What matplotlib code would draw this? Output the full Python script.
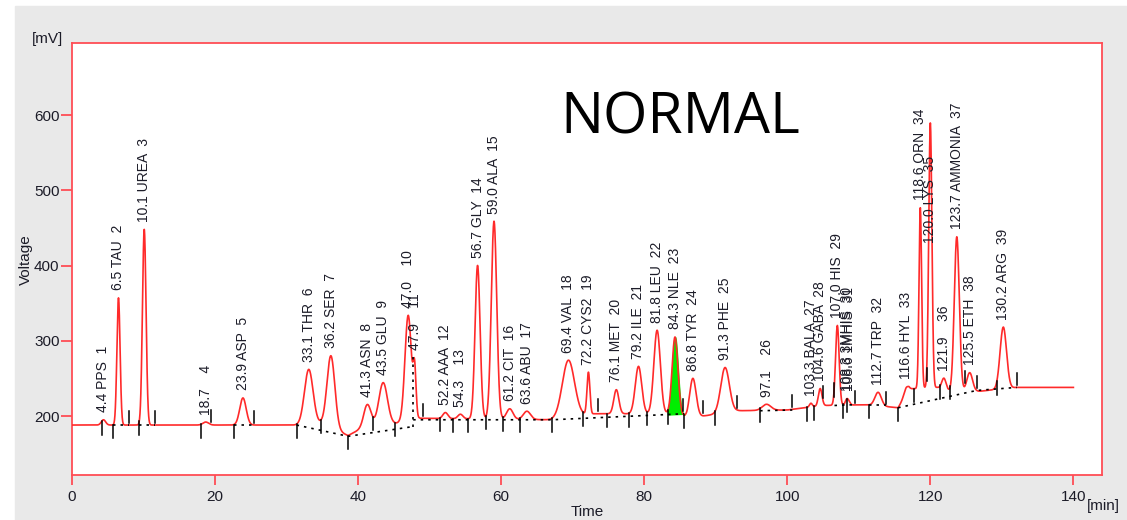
"""Amino acid chromatogram - NORMAL sample"""

import matplotlib
matplotlib.use("Agg")
import matplotlib.pyplot as plt
import numpy as np
from matplotlib.patches import Rectangle

# peaks: retention time [min], name, height above baseline [mV], width (sigma) [min]
peak_times = [4.4, 6.5, 10.1, 18.7, 23.9, 33.1, 36.2, 41.3, 43.5, 47.0, 47.9, 52.2, 54.3,
              56.7, 59.0, 61.2, 63.6, 69.4, 72.2, 76.1, 79.2, 81.8, 84.3, 86.8, 91.3, 97.1,
              103.3, 104.6, 107.0, 108.3, 108.6, 112.7, 116.6, 118.6, 120.0, 121.9, 123.7,
              125.5, 130.2]
peak_names = ["PPS", "TAU", "UREA", "", "ASP", "THR", "SER", "ASN", "GLU", "", "", "AAA", "",
              "GLY", "ALA", "CIT", "ABU", "VAL", "CYS2", "MET", "ILE", "LEU", "NLE", "TYR",
              "PHE", "", "BALA", "GABA", "HIS", "3MHIS", "1MHIS", "TRP", "HYL", "ORN", "LYS",
              "", "AMMONIA", "ETH", "ARG"]
peak_heights = [7, 169, 260, 4, 36, 73, 96, 29, 56, 140, 60, 8, 6,
                204, 263, 14, 11, 76, 56, 32, 63, 111, 102, 52, 60, 8,
                5, 23, 106, 7, 4, 18, 8, 240, 352, 15, 206,
                25, 82]
peak_sigmas = [0.3, 0.22, 0.25, 0.4, 0.45, 0.6, 0.55, 0.5, 0.6, 0.45, 0.2, 0.35, 0.35,
               0.35, 0.38, 0.45, 0.5, 0.85, 0.2, 0.35, 0.45, 0.45, 0.4, 0.45, 0.6, 0.6,
               0.2, 0.25, 0.25, 0.2, 0.2, 0.45, 0.3, 0.18, 0.22, 0.3, 0.35,
               0.4, 0.45]
# labels the software pushed down (peak index -> label start in mV)
label_override = {34: 430}

# detector baseline drift
base_t = [0, 31.5, 34.8, 38.6, 41.0, 45.2, 48.5, 67.0, 73.0, 85.0, 86.0, 89.0, 93.0,
          100.0, 105.0, 111.0, 115.5, 117.0, 121.0, 123.0, 127.0, 132.0, 144.0]
base_v = [188, 188, 190, 174, 186, 190, 197, 195, 203, 203, 197, 201, 207,
          208, 214, 215, 211, 236, 238, 232, 233, 238, 238]

# integration markers: time, +1 above / -1 below
mark_t = [4.15, 5.7, 8.0, 9.4, 11.6, 18.0, 19.5, 22.6, 25.4, 31.4, 34.8, 38.6, 42.1, 45.2,
          49.1, 51.5, 53.2, 55.4, 57.9, 60.3, 62.6, 67.1, 71.5, 73.5, 74.8, 77.9, 80.4,
          83.3, 85.4, 85.6, 88.2, 89.9, 93.0, 96.2, 100.7, 102.8, 103.8, 105.0, 106.6,
          107.8, 108.4, 109.4, 111.4, 113.8, 115.5, 117.7, 119.5, 121.4, 122.8, 124.9,
          126.5, 129.3, 132.1]
mark_dir = [-1, -1, 1, -1, 1, -1, 1, -1, 1, -1, -1, -1, -1, -1,
            1, -1, -1, -1, -1, -1, -1, -1, -1, 1, -1, -1, -1,
            -1, 1, -1, 1, -1, 1, -1, 1, -1, -1, 1, -1,
            -1, -1, 1, -1, 1, -1, -1, -1, -1, -1, 1,
            1, -1, 1]

# dotted integration baselines
dot_segments = [
    [(5.7, 188), (8.0, 188)],
    [(9.4, 188), (11.6, 188)],
    [(22.6, 188), (25.4, 188)],
    [(31.4, 188), (38.6, 173), (47.7, 186)],
    [(47.7, 186), (47.7, 280)],
    [(47.7, 195), (67.1, 195), (85.6, 203)],
    [(96.2, 207), (100.7, 208)],
    [(106.6, 214), (109.4, 215)],
    [(111.4, 215), (113.8, 215)],
    [(115.5, 211), (126.5, 234), (129.3, 236), (132.1, 238)],
]

# highlighted internal standard
fill_range = (83.3, 85.6)

RED = "#ff2a2a"
SPINE = "#ff4d55"
TXT = "#1c1c28"

t = np.linspace(0, 140, 7000)
baseline = np.interp(t, base_t, base_v)
signal = baseline.copy()
for pt, ph, ps in zip(peak_times, peak_heights, peak_sigmas):
    signal += ph * np.exp(-0.5 * ((t - pt) / ps) ** 2)

fig = plt.figure(figsize=(11.27, 5.20), dpi=100, facecolor="white")
fig.patches.append(Rectangle((15 / 1127, 0), 1 - 15 / 1127, 1 - 6 / 520,
                             transform=fig.transFigure, color="#e9e9e9", zorder=-10))
ax = fig.add_axes([72 / 1127, 1 - 475 / 520, (1102 - 72) / 1127, (475 - 43) / 520])
ax.set_facecolor("white")

ax.plot(t, signal, color=RED, lw=1.2, zorder=3)

# green filled NLE peak
mask = (t >= fill_range[0]) & (t <= fill_range[1])
seg_t, seg_v = zip(*dot_segments[5])
fill_base = np.interp(t[mask], seg_t, seg_v)
ax.fill_between(t[mask], fill_base, signal[mask], color="#00ee00", zorder=2)

for seg in dot_segments:
    xs, ys = zip(*seg)
    ax.plot(xs, ys, color="black", lw=1.2, ls=(0, (1.5, 3)), zorder=4)

for mt, md in zip(mark_t, mark_dir):
    y0 = np.interp(mt, t, signal)
    if md > 0:
        ax.plot([mt, mt], [y0 + 3, y0 + 19], color="black", lw=1.1, zorder=4)
    else:
        ax.plot([mt, mt], [y0, y0 - 18], color="black", lw=1.1, zorder=4)

for i, (pt, name) in enumerate(zip(peak_times, peak_names)):
    near = (t > pt - 0.25) & (t < pt + 0.25)
    ylab = label_override.get(i, signal[near].max() + 10)
    if name:
        label = f"{pt:.1f} {name}  {i + 1}"
    else:
        label = f"{pt:.1f}    {i + 1}"
    ax.text(pt, ylab, label, rotation=90, ha="center", va="bottom",
            fontsize=10, family=["Liberation Sans", "DejaVu Sans"], color=TXT, zorder=5)

ax.text(0.591, 0.825, "NORMAL", transform=ax.transAxes, ha="center", va="center",
        fontsize=41, family=["Open Sans", "DejaVu Sans"], color="black")

ax.set_xlim(0, 144)
ax.set_ylim(121.6, 695.7)
ax.set_xticks(np.arange(0, 141, 20))
ax.set_yticks([200, 300, 400, 500, 600])
for s in ax.spines.values():
    s.set_color(SPINE)
    s.set_linewidth(1.3)
ax.tick_params(axis="both", colors=SPINE, width=1.3, labelcolor=TXT, labelsize=11)
ax.tick_params(axis="y", length=8, pad=1)
ax.tick_params(axis="x", length=7, pad=4)
for lab in ax.get_xticklabels() + ax.get_yticklabels():
    lab.set_family(["Liberation Sans", "DejaVu Sans"])

fig.text(47.5 / 1127, 1 - 39.5 / 520, "[mV]", ha="center", va="center", fontsize=11,
         family=["Liberation Sans", "DejaVu Sans"], color=TXT)
fig.text(25.5 / 1127, 1 - 260 / 520, "Voltage", rotation=90, ha="center", va="center",
         fontsize=11, family=["Liberation Sans", "DejaVu Sans"], color=TXT)
fig.text(587 / 1127, 1 - 512 / 520, "Time", ha="center", va="center", fontsize=11,
         family=["Liberation Sans", "DejaVu Sans"], color=TXT)
fig.text(1103 / 1127, 1 - 506 / 520, "[min]", ha="center", va="center", fontsize=11,
         family=["Liberation Sans", "DejaVu Sans"], color=TXT)

fig.savefig("out.png", dpi=100, facecolor=fig.get_facecolor())
